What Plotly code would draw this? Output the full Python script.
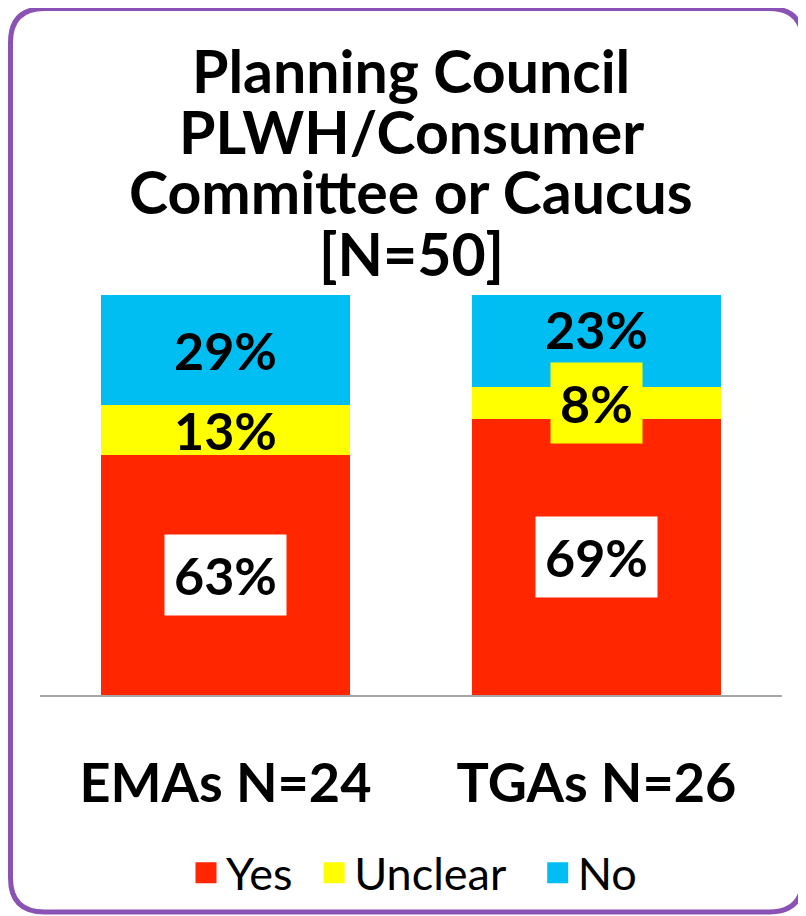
import plotly.graph_objects as go

categories = ["EMAs N=24", "TGAs N=26"]
series_names = ["Yes", "Unclear", "No"]
yes_vals = [63, 69]
unclear_vals = [13, 8]
no_vals = [29, 23]
colors = ["#FF2600", "#FFFF00", "#00BEF2"]
title_lines = ["Planning Council", "PLWH/Consumer", "Committee or Caucus", "[N=50]"]

W, H = 806, 916
OFF = 8  # page body margin
L, T = 40 - OFF, 295 - OFF
R, B = W - (782 - OFF), H - (695 - OFF)
FONT = "Lato"


def px(x):
    # page x -> paper x
    return (x - OFF - L) / (W - L - R)


def py(y):
    # page y -> paper y
    return (H - B - (y - OFF)) / (H - T - B)


# invisible trailing characters widen the gap between legend entries
pad = {"Yes": "-", "Unclear": "-.", "No": ""}

fig = go.Figure()
series = [yes_vals, unclear_vals, no_vals]
for name, vals, col in zip(series_names, series, colors):
    fig.add_trace(go.Bar(x=categories, y=vals, name=name, marker=dict(color=col, line=dict(width=0)),
                         hoverinfo="skip", showlegend=False))
    label = name + (f"<span style='color:rgba(0,0,0,0)'>{pad[name]}</span>" if pad[name] else "")
    fig.add_trace(go.Scatter(x=[None], y=[None], mode="markers", name=label,
                             marker=dict(symbol="square", size=16, color=col,
                                         line=dict(color=col, width=5))))

# label positions: centers of the normalized stacked segments
label_bg = [["white", "white"], [None, "#FFFF00"], [None, None]]
label_shift = [[0, 0], [0, 0], [0, 12]]
for i, cat in enumerate(categories):
    total = sum(s[i] for s in series)
    base = 0
    for j, s in enumerate(series):
        h = s[i] / total * 100
        bg = label_bg[j][i]
        fig.add_annotation(x=cat, y=base + h / 2, text=f"<b>{s[i]}%</b>", showarrow=False,
                           yshift=label_shift[j][i],
                           font=dict(family=FONT, size=52, color="black"),
                           bgcolor=bg if bg else "rgba(0,0,0,0)", borderpad=9 if bg else 0)
        base += h

# title, one annotation per line to keep the tight line spacing
for k, line in enumerate(title_lines):
    fig.add_annotation(x=0.5, xref="paper", yref="paper", y=py(70 + 61 * k), yanchor="middle",
                       text=f"<b>{line}</b>", showarrow=False,
                       font=dict(family=FONT, size=59, color="black"))

# rounded purple frame
x0, y0, x1, y1, r = 10.5, 8.5, 803, 912, 34
path = (f"M {px(x0 + r)},{py(y0)} L {px(x1 - r)},{py(y0)} Q {px(x1)},{py(y0)} {px(x1)},{py(y0 + r)} "
        f"L {px(x1)},{py(y1 - r)} Q {px(x1)},{py(y1)} {px(x1 - r)},{py(y1)} "
        f"L {px(x0 + r)},{py(y1)} Q {px(x0)},{py(y1)} {px(x0)},{py(y1 - r)} "
        f"L {px(x0)},{py(y0 + r)} Q {px(x0)},{py(y0)} {px(x0 + r)},{py(y0)} Z")
fig.add_shape(type="path", xref="paper", yref="paper", path=path,
              line=dict(color="#8B52B5", width=5), layer="above")

fig.update_layout(
    width=W, height=H,
    barmode="stack", barnorm="percent", bargap=0.33,
    plot_bgcolor="white", paper_bgcolor="white",
    margin=dict(l=L, r=R, t=T, b=B),
    xaxis=dict(showline=True, linecolor="#A6A6A6", linewidth=2, ticks="", showgrid=False,
               tickfont=dict(family=FONT, size=54, color="black", weight="bold"),
               ticklabelstandoff=40, fixedrange=True),
    yaxis=dict(visible=False, range=[0, 100], fixedrange=True),
    legend=dict(orientation="h", x=px(186), xanchor="left", y=py(873), yanchor="middle",
                font=dict(family=FONT, size=45, color="black"), traceorder="normal",
                itemwidth=30, bgcolor="rgba(0,0,0,0)"),
    showlegend=True,
)

fig.write_html("out.html")
